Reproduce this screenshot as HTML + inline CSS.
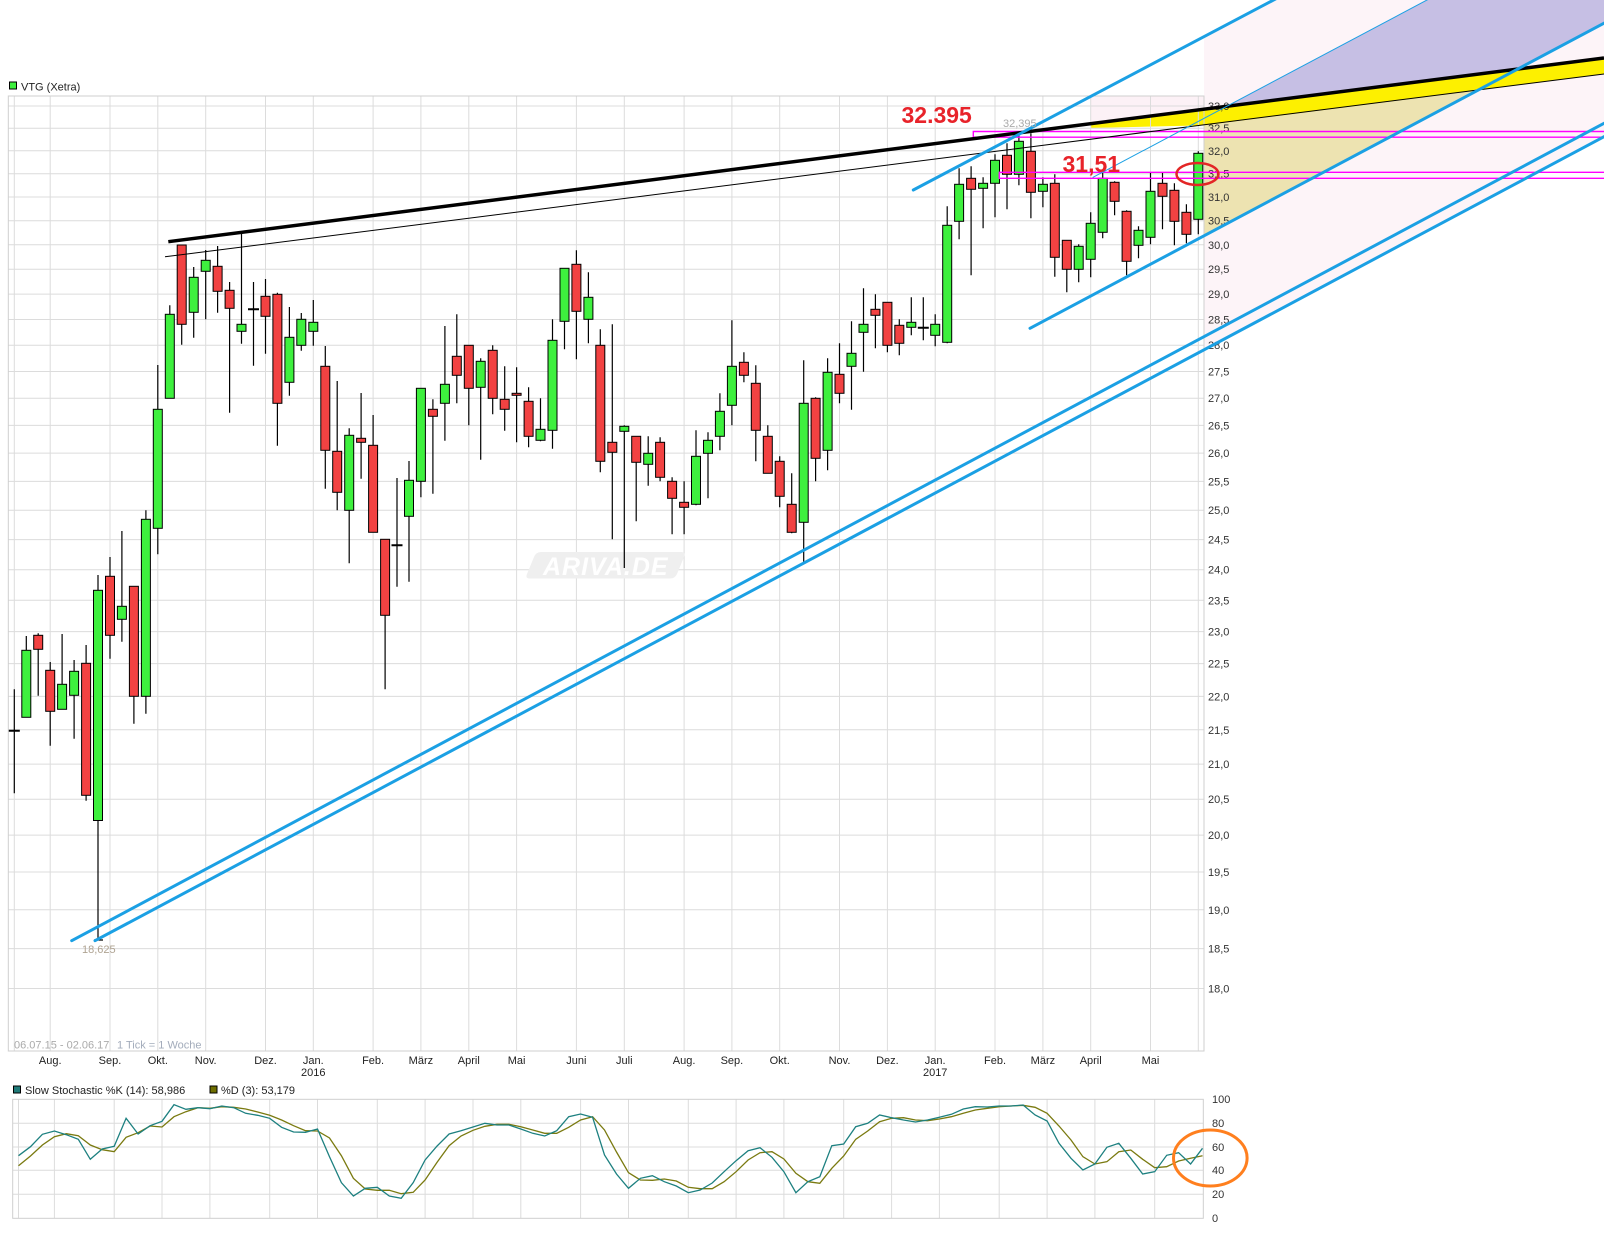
<!DOCTYPE html>
<html><head><meta charset="utf-8"><style>
html,body{margin:0;padding:0;background:#fff;}
svg{display:block;font-family:"Liberation Sans",Arial,sans-serif;}
.g{fill:#3ef03e;stroke:#000;stroke-width:1}
.r{fill:#f24242;stroke:#000;stroke-width:1}
</style></head><body>
<svg width="1604" height="1236" viewBox="0 0 1604 1236" xmlns="http://www.w3.org/2000/svg">
<rect width="1604" height="1236" fill="#fff"/>
<!-- fills -->
<polygon points="1204,36.7 1273.6,0 1604,0 1604,136.7 1204,349.8" fill="#fdf4f8"/>
<polygon points="1091,96 1204,96 1204,110 1091,123.6" fill="#fcf1f6"/>
<polygon points="1204,125.4 1478.6,89.9 1204,235.8" fill="#ede3b1"/>
<polygon points="1225.3,107 1427,0 1604,0 1604,23.3 1515.7,70.2" fill="#c6bfe4"/>
<polygon points="1091,123.6 1604,58 1604,74 1204,125.4 1091,128" fill="#fdf000"/>
<!-- main grid -->
<g stroke="#dcdcdc" stroke-width="1">
<path d="M8.3 106H1204M8.3 128.2H1204M8.3 150.8H1204M8.3 173.7H1204M8.3 197H1204M8.3 220.7H1204M8.3 244.8H1204M8.3 269.2H1204M8.3 294.1H1204M8.3 319.5H1204M8.3 345.2H1204M8.3 371.5H1204M8.3 398.2H1204M8.3 425.4H1204M8.3 453.1H1204M8.3 481.4H1204M8.3 510.2H1204M8.3 539.6H1204M8.3 569.7H1204M8.3 600.3H1204M8.3 631.6H1204M8.3 663.6H1204M8.3 696.4H1204M8.3 729.8H1204M8.3 764.1H1204M8.3 799.2H1204M8.3 835.1H1204M8.3 872H1204M8.3 909.8H1204M8.3 948.6H1204M8.3 988.5H1204"/>
<path d="M14.3 96V1051M50.2 96V1051M110 96V1051M157.8 96V1051M205.7 96V1051M265.5 96V1051M313.3 96V1051M373.1 96V1051M420.9 96V1051M468.8 96V1051M516.6 96V1051M576.4 96V1051M624.3 96V1051M684.1 96V1051M731.9 96V1051M779.7 96V1051M839.5 96V1051M887.4 96V1051M935.2 96V1051M995 96V1051M1042.9 96V1051M1090.7 96V1051M1150.5 96V1051M1198.3 96V1051"/>
</g>
<rect x="8.3" y="96" width="1195.7" height="955" fill="none" stroke="#cfcfcf" stroke-width="1"/>
<!-- stoch grid -->
<g stroke="#dcdcdc" stroke-width="1">
<path d="M12.7 1123.3H1203.3M12.7 1147H1203.3M12.7 1170.3H1203.3M12.7 1194.3H1203.3"/>
<path d="M18.5 1099.3V1218.3M54.4 1099.3V1218.3M114.2 1099.3V1218.3M162 1099.3V1218.3M209.9 1099.3V1218.3M269.7 1099.3V1218.3M317.5 1099.3V1218.3M377.3 1099.3V1218.3M425.1 1099.3V1218.3M473 1099.3V1218.3M520.8 1099.3V1218.3M580.6 1099.3V1218.3M628.5 1099.3V1218.3M688.3 1099.3V1218.3M736.1 1099.3V1218.3M783.9 1099.3V1218.3M843.7 1099.3V1218.3M891.6 1099.3V1218.3M939.4 1099.3V1218.3M999.2 1099.3V1218.3M1047.1 1099.3V1218.3M1094.9 1099.3V1218.3M1154.7 1099.3V1218.3"/>
</g>
<rect x="12.7" y="1099.3" width="1190.6" height="119" fill="none" stroke="#cfcfcf" stroke-width="1"/>
<!-- price labels -->
<g font-size="11" fill="#333">
<text x="1208" y="110">33,0</text><text x="1208" y="132.2">32,5</text><text x="1208" y="154.8">32,0</text><text x="1208" y="177.7">31,5</text><text x="1208" y="201">31,0</text><text x="1208" y="224.7">30,5</text><text x="1208" y="248.8">30,0</text><text x="1208" y="273.2">29,5</text><text x="1208" y="298.1">29,0</text><text x="1208" y="323.5">28,5</text><text x="1208" y="349.2">28,0</text><text x="1208" y="375.5">27,5</text><text x="1208" y="402.2">27,0</text><text x="1208" y="429.4">26,5</text><text x="1208" y="457.1">26,0</text><text x="1208" y="485.4">25,5</text><text x="1208" y="514.2">25,0</text><text x="1208" y="543.6">24,5</text><text x="1208" y="573.7">24,0</text><text x="1208" y="604.3">23,5</text><text x="1208" y="635.6">23,0</text><text x="1208" y="667.6">22,5</text><text x="1208" y="700.4">22,0</text><text x="1208" y="733.8">21,5</text><text x="1208" y="768.1">21,0</text><text x="1208" y="803.2">20,5</text><text x="1208" y="839.1">20,0</text><text x="1208" y="876">19,5</text><text x="1208" y="913.8">19,0</text><text x="1208" y="952.6">18,5</text><text x="1208" y="992.5">18,0</text>
</g>
<!-- month labels -->
<g font-size="11" fill="#222" text-anchor="middle">
<text x="50.2" y="1064">Aug.</text><text x="110" y="1064">Sep.</text><text x="157.8" y="1064">Okt.</text><text x="205.7" y="1064">Nov.</text><text x="265.5" y="1064">Dez.</text><text x="313.3" y="1064">Jan.</text><text x="313.3" y="1076">2016</text><text x="373.1" y="1064">Feb.</text><text x="420.9" y="1064">März</text><text x="468.8" y="1064">April</text><text x="516.6" y="1064">Mai</text><text x="576.4" y="1064">Juni</text><text x="624.3" y="1064">Juli</text><text x="684.1" y="1064">Aug.</text><text x="731.9" y="1064">Sep.</text><text x="779.7" y="1064">Okt.</text><text x="839.5" y="1064">Nov.</text><text x="887.4" y="1064">Dez.</text><text x="935.2" y="1064">Jan.</text><text x="935.2" y="1076">2017</text><text x="995" y="1064">Feb.</text><text x="1042.9" y="1064">März</text><text x="1090.7" y="1064">April</text><text x="1150.5" y="1064">Mai</text>
</g>
<text x="14" y="1048.5" font-size="11" fill="#aaaaaa">06.07.15 - 02.06.17</text>
<text x="117" y="1048.5" font-size="11" fill="#a3acbb">1 Tick = 1 Woche</text>
<!-- legends -->
<rect x="9.5" y="82" width="7" height="7" fill="#3ef03e" stroke="#000" stroke-width="1"/>
<text x="21" y="90.5" font-size="11" fill="#222">VTG (Xetra)</text>
<rect x="13.5" y="1086" width="7" height="7" fill="#1f7a78" stroke="#000" stroke-width="1"/>
<text x="25" y="1094" font-size="11" fill="#222">Slow Stochastic %K (14): 58,986</text>
<rect x="210" y="1086" width="7" height="7" fill="#6e6e00" stroke="#000" stroke-width="1"/>
<text x="221" y="1094" font-size="11" fill="#222">%D (3): 53,179</text>
<!-- stoch labels -->
<g font-size="11" fill="#333">
<text x="1212" y="1103">100</text><text x="1212" y="1127">80</text><text x="1212" y="1151">60</text><text x="1212" y="1174">40</text><text x="1212" y="1198">20</text><text x="1212" y="1222">0</text>
</g>
<!-- watermark -->
<path d="M541 552 H681 Q686 552 684 557 L677 574 Q675 578.5 670 578.5 H530 Q525 578.5 527 574 L534 557 Q536 552 541 552 Z" fill="#efefef"/>
<text x="543" y="575" font-size="25" font-weight="bold" font-style="italic" fill="#ffffff" letter-spacing="1">ARIVA.DE</text>
<!-- candle wicks -->
<path fill="none" stroke="#000" stroke-width="1.2" d="M14.3 689.3V793.3 M26.3 636V717.3 M38.2 633.3V695.7 M50.2 662V745.7 M62.1 634V709.3 M74.1 660V738.7 M86.1 645V800.7 M98 575V940 M110 557V658.7 M121.9 531V641.7 M133.9 586.3V723.7 M145.9 510.3V713.7 M157.8 365V554.3 M169.8 305.3V398.3 M181.7 245V344.7 M193.7 267V337.7 M205.7 250V319.3 M217.6 246V312.7 M229.6 282V412.7 M241.5 231.7V343.7 M253.5 282V365.7 M265.5 279V353.7 M277.4 292.7V445.7 M289.4 307V395.7 M301.3 313V350.7 M313.3 300V345.7 M325.3 346V488.7 M337.2 381V510.3 M349.2 428.3V563.3 M361.1 393V478.7 M373.1 415V532.3 M385.1 539.3V689.3 M397 478V586.7 M409 461V581.7 M420.9 388.3V497.3 M432.9 399.3V493.7 M444.9 326V440.7 M456.8 314.3V403.3 M468.8 345.3V425.3 M480.7 358.3V459.7 M492.7 345.3V414.3 M504.7 366.3V430.7 M516.6 367.3V442.3 M528.6 387.3V447.3 M540.5 398.3V441.3 M552.5 319.3V448.7 M564.5 268.3V349.3 M576.4 250.3V359.3 M588.4 272.3V343.3 M600.3 329.3V472.3 M612.3 324.3V539.3 M624.3 425.3V568 M636.2 436.3V521.3 M648.2 436.3V485.7 M660.1 437.3V481.3 M672.1 477.3V534.3 M684.1 481.3V534.3 M696 430.3V505.3 M708 432.3V498.3 M719.9 393.3V450.3 M731.9 320.3V425.3 M743.9 352.3V382.3 M755.8 365.3V461.3 M767.8 425.3V473.3 M779.7 456.3V507.3 M791.7 473.3V533.3 M803.7 360.3V561.7 M815.6 397.3V481.3 M827.6 358.3V470.3 M839.5 343.3V403.3 M851.5 321.3V409.7 M863.5 288.3V371.7 M875.4 294.3V348.3 M887.4 302.3V352.3 M899.3 319.3V355.3 M911.3 297.3V335.3 M923.3 297.3V340.3 M935.2 314.3V346.3 M947.2 206.3V343.3 M959.1 168.3V239.3 M971.1 166.3V275.3 M983.1 177.3V228.3 M995 154.3V217.3 M1007 143.3V209.3 M1018.9 133.3V185.3 M1030.9 133.3V218.3 M1042.9 177.3V207.3 M1054.8 174.3V276.7 M1066.8 240.3V292.3 M1078.7 244.3V282.3 M1090.7 212.3V277.3 M1102.7 172.3V238.3 M1114.6 181.3V215.3 M1126.6 210.3V275.3 M1138.5 226.3V258.3 M1150.5 172.3V244.3 M1162.5 172.3V229.3 M1174.4 183.3V245.3 M1186.4 204.3V243.3 M1198.3 151.3V234.3 M94 940H103"/>
<!-- dojis -->
<path fill="none" stroke="#000" stroke-width="2" d="M8.8 730.7h11 M248 309.3h11 M391.5 545.3h11 M917.8 327.7h11"/>
<!-- green bodies -->
<g class="g">
<rect x="21.8" y="650.3" width="9" height="67"/><rect x="57.6" y="684.3" width="9" height="25"/><rect x="69.6" y="671.3" width="9" height="24"/><rect x="93.5" y="590.3" width="9" height="230.2"/><rect x="117.4" y="606.3" width="9" height="13"/><rect x="141.4" y="519.3" width="9" height="177"/><rect x="153.3" y="409.3" width="9" height="119"/><rect x="165.3" y="314.3" width="9" height="84"/><rect x="189.2" y="277.3" width="9" height="35"/><rect x="201.2" y="260.3" width="9" height="11"/><rect x="237" y="324.3" width="9" height="7"/><rect x="284.9" y="337.3" width="9" height="45"/><rect x="296.8" y="319.3" width="9" height="26"/><rect x="308.8" y="322.3" width="9" height="9"/><rect x="344.7" y="435.3" width="9" height="75"/><rect x="404.5" y="480.3" width="9" height="36"/><rect x="416.4" y="388.3" width="9" height="93"/><rect x="440.4" y="384.3" width="9" height="19"/><rect x="476.2" y="361.3" width="9" height="26"/><rect x="536" y="429.3" width="9" height="11"/><rect x="548" y="340.3" width="9" height="90"/><rect x="560" y="268.3" width="9" height="53"/><rect x="583.9" y="297.3" width="9" height="22"/><rect x="619.8" y="426.3" width="9" height="5"/><rect x="643.7" y="453.3" width="9" height="11"/><rect x="691.5" y="456.3" width="9" height="48"/><rect x="703.5" y="440.3" width="9" height="13"/><rect x="715.4" y="411.3" width="9" height="25"/><rect x="727.4" y="366.3" width="9" height="39"/><rect x="799.2" y="403.3" width="9" height="119"/><rect x="823.1" y="372.3" width="9" height="78"/><rect x="847" y="353.3" width="9" height="13"/><rect x="859" y="324.3" width="9" height="8"/><rect x="906.8" y="322.3" width="9" height="5"/><rect x="930.7" y="324.3" width="9" height="11"/><rect x="942.7" y="225.3" width="9" height="117"/><rect x="954.6" y="184.3" width="9" height="37"/><rect x="978.6" y="183.3" width="9" height="5"/><rect x="990.5" y="160.3" width="9" height="23"/><rect x="1014.4" y="141.3" width="9" height="33"/><rect x="1038.4" y="184.3" width="9" height="7"/><rect x="1074.2" y="246.3" width="9" height="23"/><rect x="1086.2" y="223.3" width="9" height="36"/><rect x="1098.2" y="178.3" width="9" height="54"/><rect x="1134" y="230.3" width="9" height="15"/><rect x="1146" y="191.3" width="9" height="46"/><rect x="1193.8" y="153.3" width="9" height="66"/>
</g>
<!-- red bodies -->
<g class="r">
<rect x="33.7" y="635.3" width="9" height="14"/><rect x="45.7" y="670.3" width="9" height="41"/><rect x="81.6" y="663.3" width="9" height="132"/><rect x="105.5" y="576.3" width="9" height="59"/><rect x="129.4" y="586.3" width="9" height="110"/><rect x="177.2" y="245" width="9" height="79.3"/><rect x="213.1" y="266.3" width="9" height="25"/><rect x="225.1" y="290.3" width="9" height="18"/><rect x="261" y="296.3" width="9" height="20"/><rect x="272.9" y="294.3" width="9" height="109"/><rect x="320.8" y="366.3" width="9" height="84"/><rect x="332.7" y="451.3" width="9" height="41"/><rect x="356.6" y="438.3" width="9" height="4"/><rect x="368.6" y="445.3" width="9" height="87"/><rect x="380.6" y="539.3" width="9" height="76"/><rect x="428.4" y="409.3" width="9" height="7"/><rect x="452.3" y="356.3" width="9" height="19"/><rect x="464.3" y="345.3" width="9" height="43"/><rect x="488.2" y="350.3" width="9" height="48"/><rect x="500.2" y="399.3" width="9" height="10"/><rect x="512.1" y="393.3" width="9" height="2"/><rect x="524.1" y="401.3" width="9" height="35"/><rect x="571.9" y="264.3" width="9" height="47"/><rect x="595.8" y="345.3" width="9" height="116"/><rect x="607.8" y="442.3" width="9" height="10"/><rect x="631.7" y="436.3" width="9" height="26"/><rect x="655.6" y="442.3" width="9" height="35"/><rect x="667.6" y="481.3" width="9" height="17"/><rect x="679.6" y="502.3" width="9" height="5"/><rect x="739.4" y="362.3" width="9" height="13"/><rect x="751.3" y="383.3" width="9" height="47"/><rect x="763.3" y="436.3" width="9" height="37"/><rect x="775.2" y="461.3" width="9" height="35"/><rect x="787.2" y="504.3" width="9" height="28"/><rect x="811.1" y="398.3" width="9" height="60"/><rect x="835" y="374.3" width="9" height="19"/><rect x="870.9" y="309.3" width="9" height="6"/><rect x="882.9" y="302.3" width="9" height="43"/><rect x="894.8" y="325.3" width="9" height="18"/><rect x="966.6" y="178.3" width="9" height="11"/><rect x="1002.5" y="155.3" width="9" height="19"/><rect x="1026.4" y="151.3" width="9" height="41"/><rect x="1050.3" y="183.3" width="9" height="74"/><rect x="1062.3" y="240.3" width="9" height="29"/><rect x="1110.1" y="182.3" width="9" height="19"/><rect x="1122.1" y="211.3" width="9" height="50"/><rect x="1158" y="183.3" width="9" height="13"/><rect x="1169.9" y="190.3" width="9" height="31"/><rect x="1181.9" y="212.3" width="9" height="22"/>
</g>
<!-- magenta boxes -->
<g fill="none" stroke="#ff00ff" stroke-width="1.4">
<path d="M1604 131.5H973.3V137.2H1604"/>
<path d="M1604 172.3H999.3V178.3H1604"/>
</g>
<!-- trend lines -->
<line x1="168.3" y1="241.7" x2="1604" y2="58" stroke="#000" stroke-width="3.5"/>
<line x1="165" y1="256.8" x2="1604" y2="74" stroke="#000" stroke-width="1"/>
<g stroke="#1ba0e4" fill="none" stroke-linecap="round">
<line x1="913.3" y1="190" x2="1280" y2="-3.4" stroke-width="3"/>
<line x1="1030" y1="328.3" x2="1610" y2="20" stroke-width="3"/>
<line x1="1093" y1="177.3" x2="1430" y2="-1.6" stroke-width="1"/>
<line x1="71.7" y1="940.7" x2="1610" y2="120.1" stroke-width="3"/>
<line x1="95" y1="940.7" x2="1610" y2="133.5" stroke-width="3"/>
</g>
<!-- annotations -->
<text x="901.5" y="123" font-size="23" font-weight="bold" fill="#e8232a">32.395</text>
<text x="1062.5" y="172" font-size="23" font-weight="bold" fill="#e8232a">31,51</text>
<text x="1003" y="127" font-size="11" fill="#aaaaaa">32,395</text>
<text x="82" y="953" font-size="11" fill="#b0a493">18,625</text>
<ellipse cx="1197.5" cy="174" rx="21" ry="11" fill="none" stroke="#e32626" stroke-width="2.5"/>
<!-- stochastic -->
<polyline fill="none" stroke="#7a7a10" stroke-width="1.3" points="18.5,1165.7 30.5,1156 42.4,1145 54.4,1136.7 66.3,1133.7 78.3,1135.7 90.3,1145 102.2,1149.7 114.2,1151.7 126.1,1137.3 138.1,1132.7 150.1,1126 162,1127 174,1116.7 185.9,1111.7 197.9,1107.7 209.9,1108.3 221.8,1106.7 233.8,1107.3 245.7,1109 257.7,1112 269.7,1115.3 281.6,1120 293.6,1125.7 305.5,1130.7 317.5,1131 329.5,1138 341.4,1155.7 353.4,1178.3 365.3,1189 377.3,1190.3 389.3,1190.3 401.2,1193.7 413.2,1192.3 425.1,1180 437.1,1162.3 449.1,1145.7 461,1136 473,1130.3 484.9,1126.3 496.9,1124.3 508.9,1124.3 520.8,1126.7 532.8,1130 544.7,1133.3 556.7,1133.3 568.7,1127.3 580.6,1120 592.6,1116.7 604.5,1130 616.5,1152 628.5,1172.7 640.4,1180 652.4,1180.3 664.3,1179 676.3,1181 688.3,1187.3 700.2,1188.7 712.2,1188.7 724.1,1181.7 736.1,1171.7 748.1,1160 760,1152.7 772,1151.7 783.9,1159 795.9,1173.3 807.9,1181.7 819.8,1183.3 831.8,1168.3 843.7,1156 855.7,1139.3 867.7,1131 879.6,1121.7 891.6,1118.3 903.5,1117.7 915.5,1120 927.5,1120.7 939.4,1119 951.4,1116.7 963.3,1113.3 975.3,1110 987.3,1108.3 999.2,1106.7 1011.2,1106 1023.1,1105.3 1035.1,1107.3 1047.1,1113.3 1059,1126 1071,1140 1082.9,1156.7 1094.9,1164 1106.9,1161.7 1118.8,1151.7 1130.8,1150 1142.7,1159.3 1154.7,1167.7 1166.7,1166.7 1178.6,1161 1190.6,1158.3 1202.5,1155.7"/>
<polyline fill="none" stroke="#1d8080" stroke-width="1.3" points="18.5,1155.7 30.5,1146.7 42.4,1134.3 54.4,1131 66.3,1134.7 78.3,1139.3 90.3,1159.3 102.2,1149 114.2,1146.3 126.1,1118.3 138.1,1134 150.1,1125.7 162,1121.3 174,1104.7 185.9,1109.3 197.9,1107.7 209.9,1108.7 221.8,1106 233.8,1107.7 245.7,1113.3 257.7,1115.3 269.7,1118.3 281.6,1127.3 293.6,1132 305.5,1132.3 317.5,1129 329.5,1156.7 341.4,1182.7 353.4,1196 365.3,1188.3 377.3,1187.3 389.3,1196 401.2,1198.3 413.2,1182.7 425.1,1160 437.1,1146 449.1,1134 461,1130.7 473,1127 484.9,1123.3 496.9,1125 508.9,1125 520.8,1129 532.8,1133.3 544.7,1136 556.7,1130.7 568.7,1116.7 580.6,1114 592.6,1117.3 604.5,1155 616.5,1174 628.5,1188.3 640.4,1178.3 652.4,1175.7 664.3,1181.7 676.3,1186 688.3,1192.7 700.2,1190 712.2,1183 724.1,1171.7 736.1,1160.7 748.1,1150.7 760,1147.7 772,1157.3 783.9,1171.7 795.9,1192.7 807.9,1181.7 819.8,1176.7 831.8,1145.7 843.7,1144 855.7,1126.7 867.7,1123.3 879.6,1115 891.6,1117.7 903.5,1120 915.5,1122 927.5,1120 939.4,1117.3 951.4,1114.3 963.3,1109 975.3,1106.7 987.3,1107 999.2,1106 1011.2,1106 1023.1,1105 1035.1,1115 1047.1,1121 1059,1143.3 1071,1158.3 1082.9,1170 1094.9,1164 1106.9,1147.3 1118.8,1143.3 1130.8,1158.3 1142.7,1174 1154.7,1171.7 1166.7,1155.3 1178.6,1152.7 1190.6,1164 1202.5,1148.3"/>
<ellipse cx="1210.3" cy="1158" rx="36.8" ry="28" fill="none" stroke="#ff7f1e" stroke-width="3"/>
</svg>
</body></html>
